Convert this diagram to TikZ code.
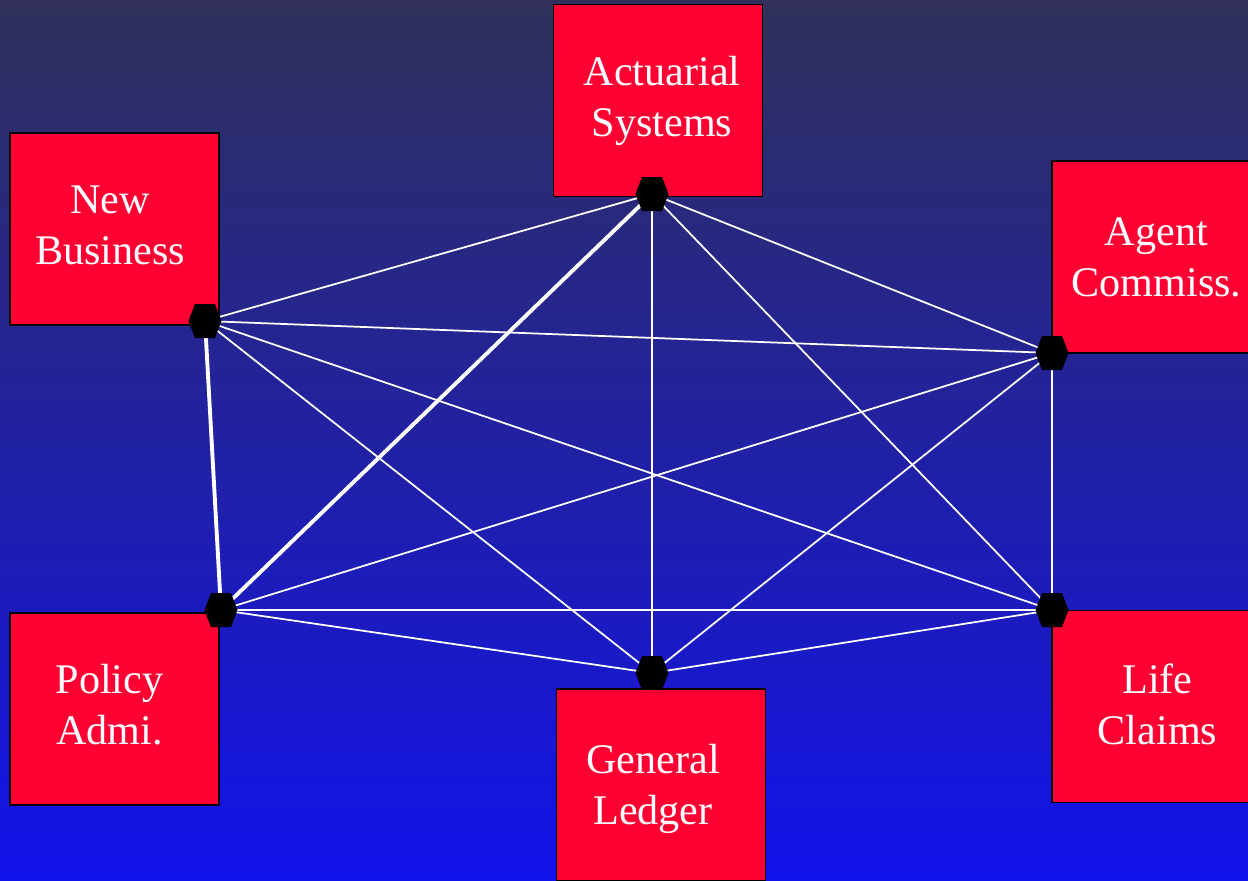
\documentclass[tikz,border=0pt]{standalone}
\usepackage{fontspec}
\setmainfont{Liberation Serif}
\definecolor{boxred}{RGB}{255,0,51}
\definecolor{bgtop}{RGB}{48,48,90}
\definecolor{bgbot}{RGB}{18,18,235}
\begin{document}
\begin{tikzpicture}[x=0.02cm, y=-0.02cm, line join=round, line cap=round,
	dept/.style={draw=black, line width=1.1pt, fill=boxred, inner sep=0pt,
		minimum width=4.18cm, minimum height=3.84cm},
	deptname/.style={text=white, align=center, inner sep=0pt,
		font=\fontsize{24}{29}\selectfont},
	link/.style={white, line width=1pt},
	mainlink/.style={white, line width=2.2pt}]
	\useasboundingbox (0,0) rectangle (1248,880);
	\clip (0,0) rectangle (1248,880);
	\shade[top color=bgtop, bottom color=bgbot] (0,0) rectangle (1248,880);
	\node[dept, label={[deptname, shift={(4,0)}]center:Actuarial\\Systems}] (act) at (658,100.5) {};
	\node[dept, label={[deptname, shift={(-4.5,-4)}]center:New\\Business}] (nb) at (114.5,229) {};
	\node[dept, label={[deptname]center:Agent\\Commiss.}] (ag) at (1156.5,257) {};
	\node[dept, label={[deptname, shift={(-5,-4)}]center:Policy\\Admi.}] (pol) at (114.5,709) {};
	\node[dept, label={[deptname, shift={(-8,3.5)}]center:General\\Ledger}] (gl) at (661,785) {};
	\node[dept, label={[deptname, shift={(1,-2)}]center:Life\\Claims}] (life) at (1156.5,706.5) {};
	\path
	(205,321) coordinate (pnb)
	(652,194) coordinate (pact)
	(1052,353) coordinate (pag)
	(1052,610) coordinate (plife)
	(221,610) coordinate (ppol)
	(652,673) coordinate (pgl)
	;
	\foreach \a/\b in {pnb/pact,pnb/pag,pnb/plife,pnb/pgl,pact/pag,pact/plife,pact/pgl,
		pag/plife,pag/ppol,pag/pgl,ppol/plife,ppol/pgl,pgl/plife}
	\draw[link] (\a)--(\b);
	\draw[mainlink] (pnb)--(ppol) (pact)--(ppol);
	\foreach \p in {pnb,pact,pag,plife,ppol,pgl}
	\fill (\p) +(-16.5,0) -- +(-10,-17) -- +(10,-17) -- +(16.5,0) -- +(10,17) -- +(-10,17) -- cycle;
\end{tikzpicture}
\end{document}
